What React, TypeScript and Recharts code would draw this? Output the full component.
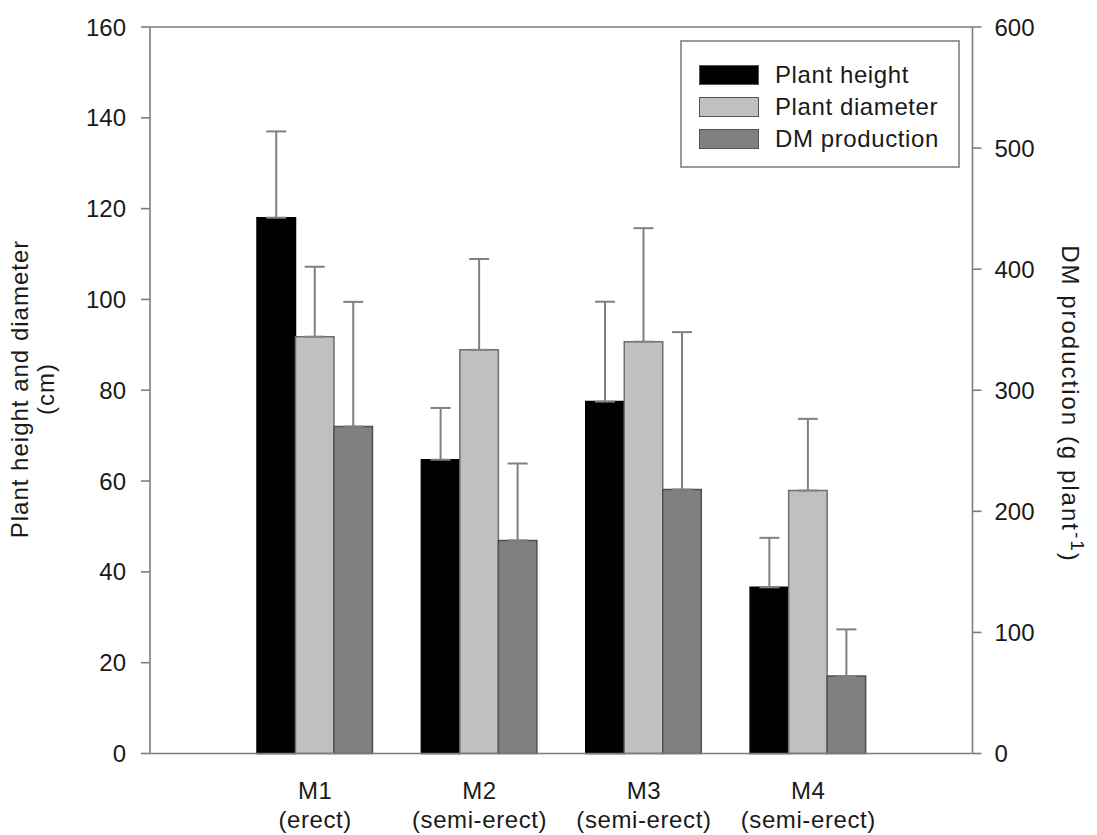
import React from 'react';
import {
  BarChart,
  Bar,
  XAxis,
  YAxis,
  ErrorBar,
  Legend,
  ReferenceLine
} from 'recharts';

const groups = ['M1', 'M2', 'M3', 'M4'];
const habits = ['(erect)', '(semi-erect)', '(semi-erect)', '(semi-erect)'];
const seriesNames = ['Plant height', 'Plant diameter', 'DM production'];

// plant height and diameter in cm (left axis), DM in g plant-1 (right axis)
const plantHeight = [118, 64.7, 77.5, 36.6];
const plantHeightSd = [19, 11.4, 22, 10.9];
const plantDiameter = [91.8, 88.9, 90.7, 57.9];
const plantDiameterSd = [15.4, 20, 25, 15.8];
const dmProduction = [270, 176, 218, 64];
const dmProductionSd = [103, 63.5, 130, 38.5];

const leftTicks = [0, 20, 40, 60, 80, 100, 120, 140, 160];
const rightTicks = [0, 100, 200, 300, 400, 500, 600];

const data = groups.map((g, i) => ({
  name: g,
  habit: habits[i],
  height: plantHeight[i],
  heightErr: [0, plantHeightSd[i]],
  diameter: plantDiameter[i],
  diameterErr: [0, plantDiameterSd[i]],
  dm: dmProduction[i],
  dmErr: [0, dmProductionSd[i]]
}));

const FONT = '"Liberation Sans", Arial, sans-serif';
const TEXT = '#1a1a1a';
const AXIS = '#7d7d7d';

const GroupTick = (props: any) => {
  const { x, y, payload } = props;
  const i = groups.indexOf(payload.value);
  return (
    <g>
      <text x={x} y={y + 45} textAnchor="middle" fill={TEXT} fontSize={24} fontFamily={FONT} letterSpacing={0.6}>
        {payload.value}
      </text>
      <text x={x} y={y + 74} textAnchor="middle" fill={TEXT} fontSize={24} fontFamily={FONT} letterSpacing={0.6}>
        {habits[i]}
      </text>
    </g>
  );
};

const LeftTitle = () => (
  <g fontFamily={FONT} fontSize={24} fill={TEXT} letterSpacing={1}>
    <text x={28} y={389} textAnchor="middle" transform="rotate(-90, 28, 389)">Plant height and diameter</text>
    <text x={54} y={389} textAnchor="middle" transform="rotate(-90, 54, 389)">(cm)</text>
  </g>
);

const RightTitle = () => (
  <text x={1062} y={404} textAnchor="middle" transform="rotate(90, 1062, 404)"
    fontFamily={FONT} fontSize={24} fill={TEXT} letterSpacing={2}>
    DM production (g plant
    <tspan dy={-9} fontSize={19}>-1</tspan>
    <tspan dy={9}>)</tspan>
  </text>
);

const LegendBox = (props: any) => {
  const items = [...(props.payload || [])].sort(
    (a: any, b: any) => seriesNames.indexOf(a.value) - seriesNames.indexOf(b.value)
  );
  return (
    <div style={{
      boxSizing: 'border-box', width: 280, height: 128, border: '2px solid #9a9a9a',
      background: '#fff', paddingTop: 17, paddingLeft: 17, fontFamily: FONT
    }}>
      {items.map((entry: any) => (
        <div key={entry.value} style={{ display: 'flex', alignItems: 'center', height: 32 }}>
          <span style={{
            display: 'inline-block', boxSizing: 'border-box', width: 60, height: 20,
            background: entry.color, border: '1.5px solid #555'
          }} />
          <span style={{ marginLeft: 16, fontSize: 24, color: TEXT, letterSpacing: 0.6 }}>{entry.value}</span>
        </div>
      ))}
    </div>
  );
};

export default function App() {
  return (
    <div style={{ position: 'absolute', left: 0, top: 0, background: '#fff' }}>
      <BarChart
        width={1097}
        height={835}
        data={data}
        margin={{ top: 27, right: 44.5, bottom: 11.5, left: 70 }}
        barSize={38.5}
        barGap={0}
      >
        <XAxis
          dataKey="name"
          padding={{ left: 83, right: 82 }}
          tickLine={false}
          tickSize={0}
          tickMargin={0}
          height={70}
          axisLine={{ stroke: AXIS, strokeWidth: 1.6 }}
          tick={<GroupTick />}
          interval={0}
        />
        <YAxis
          yAxisId="left"
          width={80}
          domain={[0, 160]}
          ticks={leftTicks}
          tickSize={9}
          tickMargin={15}
          axisLine={{ stroke: AXIS, strokeWidth: 1.6 }}
          tickLine={{ stroke: AXIS, strokeWidth: 1.6 }}
          tick={{ fill: TEXT, fontSize: 24, fontFamily: FONT }}
          label={{ content: () => <LeftTitle /> }}
        />
        <YAxis
          yAxisId="right"
          orientation="right"
          width={80}
          domain={[0, 600]}
          ticks={rightTicks}
          tickSize={9}
          tickMargin={13}
          axisLine={{ stroke: AXIS, strokeWidth: 1.6 }}
          tickLine={{ stroke: AXIS, strokeWidth: 1.6 }}
          tick={{ fill: TEXT, fontSize: 24, fontFamily: FONT }}
          label={{ content: () => <RightTitle /> }}
        />
        <ReferenceLine yAxisId="left" y={160} stroke={AXIS} strokeWidth={1.6} />
        <Legend
          layout="horizontal"
          verticalAlign="middle"
          align="center"
          content={<LegendBox />}
          wrapperStyle={{ left: 680, top: 40, width: 280, height: 128 }}
        />
        <Bar yAxisId="left" dataKey="height" name={seriesNames[0]} fill="#000000" stroke="#000000" strokeWidth={1.5} isAnimationActive={false}>
          <ErrorBar dataKey="heightErr" direction="y" width={10} stroke="#808080" strokeWidth={2} isAnimationActive={false} />
        </Bar>
        <Bar yAxisId="left" dataKey="diameter" name={seriesNames[1]} fill="#c0c0c0" stroke="#6e6e6e" strokeWidth={1.5} isAnimationActive={false}>
          <ErrorBar dataKey="diameterErr" direction="y" width={10} stroke="#808080" strokeWidth={2} isAnimationActive={false} />
        </Bar>
        <Bar yAxisId="right" dataKey="dm" name={seriesNames[2]} fill="#808080" stroke="#505050" strokeWidth={1.5} isAnimationActive={false}>
          <ErrorBar dataKey="dmErr" direction="y" width={10} stroke="#808080" strokeWidth={2} isAnimationActive={false} />
        </Bar>
      </BarChart>
    </div>
  );
}
